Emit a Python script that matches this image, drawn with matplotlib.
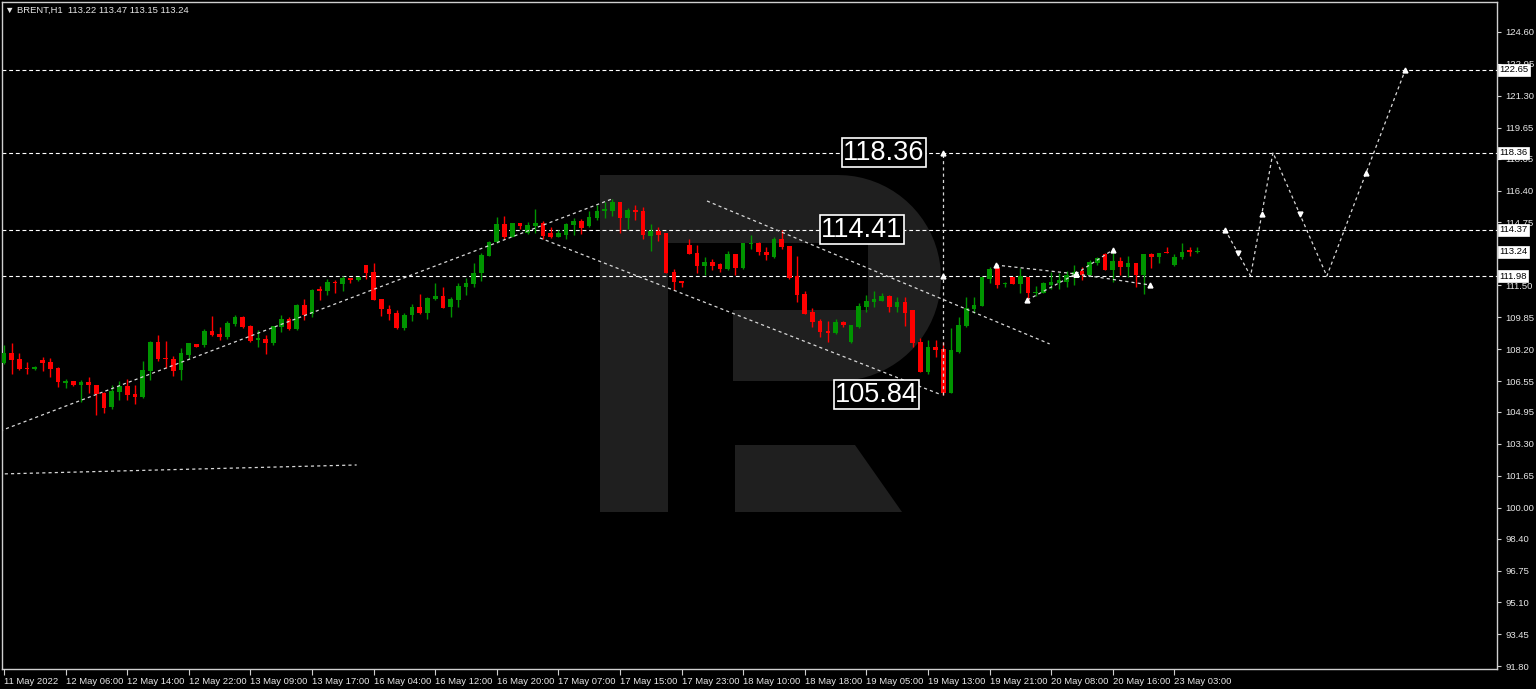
import matplotlib
matplotlib.use("Agg")
import matplotlib.pyplot as plt
import matplotlib.transforms as mtransforms
from matplotlib.patches import Polygon
import numpy as np

# ---- data --------------------------------------------------------------
header = "\u25BC BRENT,H1  113.22 113.47 113.15 113.24"

opens = [
    107.49, 107.98, 107.68, 107.24, 107.16, 107.63, 107.51, 107.23, 106.43, 106.55,
    106.34, 106.48, 106.34, 105.91, 105.22, 106.00, 106.29, 105.86, 105.70, 107.09,
    108.55, 107.75, 107.68, 107.11, 107.89, 108.45, 108.41, 109.13, 108.98, 108.84,
    109.48, 109.87, 109.39, 108.67, 108.72, 108.50, 109.32, 109.74, 109.24, 110.48,
    110.01, 111.29, 111.22, 111.68, 111.56, 111.89, 111.77, 112.55, 112.20, 110.77,
    110.27, 110.08, 109.30, 109.96, 110.36, 110.08, 110.79, 110.96, 110.39, 110.74,
    111.43, 111.56, 112.12, 113.03, 113.72, 114.67, 114.01, 114.70, 114.19, 114.56,
    114.73, 114.19, 114.01, 114.10, 114.62, 114.82, 114.56, 114.96, 115.36, 115.36,
    115.82, 114.96, 115.39, 115.36, 114.05, 114.32, 114.19, 112.20, 111.73, 113.58,
    113.18, 112.49, 112.72, 112.58, 112.32, 113.12, 112.38, 113.63, 113.70, 113.24,
    112.98, 113.88, 113.53, 111.98, 111.05, 110.13, 109.66, 109.15, 109.04, 109.61,
    108.58, 109.32, 110.36, 110.65, 110.70, 110.94, 110.36, 110.65, 110.22, 108.58,
    107.03, 108.32, 108.19, 105.94, 108.06, 109.39, 110.25, 110.43, 111.81, 112.38,
    111.55, 111.94, 111.56, 111.94, 111.08, 111.11, 111.51, 111.63, 111.68, 112.03,
    112.25, 112.03, 112.67, 113.12, 112.29, 112.77, 112.43, 112.63, 112.03, 113.12,
    112.98, 113.24, 112.55, 112.95, 113.32, 113.22]
highs = [
    108.41, 108.50, 107.98, 107.53, 107.32, 107.77, 107.72, 107.26, 106.65, 106.55,
    106.60, 106.74, 106.37, 105.99, 106.34, 106.55, 106.65, 106.34, 107.60, 108.63,
    108.92, 108.61, 107.84, 108.24, 108.50, 108.45, 109.22, 109.91, 109.32, 109.65,
    109.96, 109.91, 109.44, 109.18, 108.92, 109.39, 109.96, 109.84, 110.53, 110.77,
    111.30, 111.46, 111.81, 111.77, 111.98, 111.89, 111.94, 112.55, 112.67, 110.77,
    110.48, 110.22, 110.08, 110.51, 111.03, 110.87, 111.60, 111.39, 110.87, 111.60,
    111.86, 112.67, 113.15, 113.80, 115.02, 115.10, 114.70, 114.72, 114.79, 115.43,
    114.82, 114.50, 114.36, 114.70, 114.96, 114.91, 115.36, 115.65, 115.82, 115.94,
    115.82, 115.48, 115.65, 115.53, 114.67, 114.50, 114.22, 112.32, 111.73, 113.88,
    113.58, 112.98, 112.84, 112.67, 113.27, 113.12, 113.70, 114.10, 113.75, 113.49,
    114.01, 114.36, 113.53, 113.01, 111.22, 110.31, 109.74, 109.66, 109.74, 109.66,
    109.44, 110.60, 110.99, 111.22, 111.08, 110.99, 110.87, 110.91, 110.22, 108.75,
    108.67, 108.67, 108.58, 109.27, 109.87, 110.87, 110.91, 111.91, 112.43, 112.55,
    111.68, 111.94, 112.38, 111.94, 111.46, 111.68, 112.20, 112.12, 112.25, 112.55,
    112.43, 112.81, 112.98, 113.15, 113.24, 112.98, 113.01, 112.63, 113.12, 113.18,
    113.18, 113.49, 113.12, 113.67, 113.46, 113.47]
lows = [
    107.45, 106.91, 107.11, 106.91, 107.11, 107.06, 106.77, 106.22, 106.17, 106.30,
    105.47, 105.91, 104.79, 104.91, 105.13, 105.56, 105.56, 105.36, 105.65, 106.60,
    107.60, 107.25, 106.80, 106.60, 107.67, 108.29, 108.32, 108.89, 108.67, 108.72,
    109.39, 109.27, 108.58, 108.29, 107.94, 108.41, 109.10, 109.18, 109.18, 109.70,
    109.87, 110.74, 110.99, 111.11, 111.22, 111.60, 111.74, 111.81, 110.74, 109.92,
    109.70, 109.22, 109.18, 109.65, 110.00, 109.74, 110.74, 110.31, 109.87, 110.39,
    110.99, 111.43, 111.73, 113.02, 113.67, 113.89, 113.98, 114.39, 114.15, 114.22,
    113.88, 113.93, 113.98, 113.88, 114.10, 114.15, 114.53, 114.87, 114.96, 115.08,
    114.19, 114.39, 114.87, 113.88, 113.27, 113.80, 112.12, 111.25, 111.39, 113.12,
    112.12, 112.03, 112.29, 112.20, 112.29, 112.03, 112.32, 113.36, 113.06, 112.80,
    112.89, 113.37, 111.81, 110.65, 110.01, 109.35, 108.84, 108.58, 108.98, 109.32,
    108.53, 109.27, 110.13, 110.36, 110.70, 110.13, 110.13, 109.39, 108.29, 107.03,
    106.91, 107.77, 105.84, 105.91, 107.98, 109.32, 110.05, 110.43, 111.63, 111.37,
    111.43, 111.56, 111.11, 110.74, 110.94, 111.08, 111.29, 111.29, 111.39, 111.51,
    111.77, 111.98, 112.55, 112.29, 111.68, 112.03, 111.94, 111.39, 111.05, 112.38,
    112.67, 113.18, 112.49, 112.84, 113.01, 113.15]
closes = [
    107.98, 107.63, 107.17, 107.16, 107.29, 107.49, 107.15, 106.51, 106.55, 106.34,
    106.48, 106.34, 105.87, 105.16, 106.04, 106.29, 105.82, 105.70, 107.11, 108.55,
    107.67, 107.67, 107.06, 107.98, 108.50, 108.29, 109.15, 108.92, 108.81, 109.53,
    109.87, 109.32, 108.63, 108.76, 108.50, 109.39, 109.74, 109.24, 110.48, 109.96,
    111.25, 111.20, 111.68, 111.60, 111.86, 111.77, 111.94, 112.15, 110.74, 110.25,
    110.01, 109.30, 109.96, 110.39, 110.05, 110.82, 110.94, 110.34, 110.79, 111.46,
    111.60, 112.15, 113.06, 113.75, 114.67, 114.01, 114.70, 114.58, 114.61, 114.70,
    114.05, 114.01, 114.22, 114.67, 114.82, 114.48, 115.02, 115.36, 115.43, 115.82,
    114.96, 115.39, 115.30, 114.10, 114.32, 114.10, 112.12, 111.68, 111.63, 113.12,
    112.49, 112.72, 112.49, 112.32, 113.12, 112.38, 113.70, 113.70, 113.24, 113.06,
    113.88, 113.46, 111.86, 110.99, 110.01, 109.61, 109.09, 109.06, 109.61, 109.44,
    109.44, 110.43, 110.70, 110.79, 110.94, 110.36, 110.65, 110.08, 108.50, 107.03,
    108.32, 108.15, 105.91, 108.15, 109.44, 110.31, 110.48, 111.91, 112.32, 111.51,
    111.60, 111.56, 111.98, 111.08, 111.17, 111.63, 111.68, 111.77, 112.03, 112.20,
    112.03, 112.72, 112.89, 112.29, 112.77, 112.46, 112.63, 112.03, 113.12, 112.98,
    113.18, 113.18, 112.95, 113.24, 113.24, 113.24]

time_labels = ["11 May 2022", "12 May 06:00", "12 May 14:00", "12 May 22:00",
               "13 May 09:00", "13 May 17:00", "16 May 04:00", "16 May 12:00",
               "16 May 20:00", "17 May 07:00", "17 May 15:00", "17 May 23:00",
               "18 May 10:00", "18 May 18:00", "19 May 05:00", "19 May 13:00",
               "19 May 21:00", "20 May 08:00", "20 May 16:00", "23 May 03:00"]
label_step = 8

price_ticks = [124.60, 122.95, 121.30, 119.65, 118.05, 116.40, 114.75, 111.50,
               109.85, 108.20, 106.55, 104.95, 103.30, 101.65, 100.00, 98.40,
               96.75, 95.10, 93.45, 91.80]
price_tick_text = ["124.60", "122.95", "121.30", "119.65", "118.05", "116.40",
                   "114.75", "111.50", "109.85", "108.20", "106.55", "104.95",
                   "103.30", "101.65", "100.00", "98.40", "96.75", "95.10",
                   "93.45", "91.80"]
levels = [122.65, 118.36, 114.37, 111.98]
bid = 113.24

# analysis objects drawn on the chart: (bar, price) pairs
support_line = [(-0.5, 103.97), (79.0, 115.97)]
old_line = [(0.1, 101.75), (45.8, 102.21)]
channel_top = [(91.3, 115.86), (135.8, 108.47)]
channel_bottom = [(69.6, 113.95), (121.6, 105.86)]
target_line = [(122.0, 105.84), (122.0, 118.36)]
flag_top = [(128.8, 112.55), (139.2, 112.09)]
flag_bottom = [(132.9, 110.74), (139.2, 112.09)]
flag_up = [(139.2, 112.09), (144.0, 113.33)]
flag_down = [(139.2, 112.09), (148.8, 111.52)]
forecast = [(158.6, 114.37), (161.9, 111.98), (164.8, 118.36),
            (171.8, 111.98), (182.0, 122.65)]

box_text = ["118.36", "114.41", "105.84"]
box_bar = [114.3, 111.4, 113.3]
box_price = [118.36, 114.37, 105.84]

# ---- figure ------------------------------------------------------------
GREEN = "#009400"
RED = "#ff0000"
FG = "#e6e6e6"

fig = plt.figure(figsize=(15.36, 6.89), dpi=100, facecolor="black")
ax = fig.add_axes([2 / 1536, 20 / 689, 1495 / 1536, 667 / 689], facecolor="black")
ax.set_xlim(-0.26, 193.9)
ax.set_ylim(91.66, 126.15)

# watermark logo, in pixel coordinates of the picture
px = mtransforms.Affine2D().scale(1 / 1536, -1 / 689).translate(0, 1) + fig.transFigure
logo = "#1f1f1f"
t = np.linspace(-np.pi / 2, np.pi / 2, 40)
bowl = [(600, 175)] + [(838 + 103 * np.cos(a), 278 + 103 * np.sin(a)) for a in t] + [(600, 381)]
ax.add_patch(Polygon(bowl, closed=True, fc=logo, ec="none", transform=px, zorder=0.5))
ax.add_patch(Polygon([(600, 381), (668, 381), (668, 512), (600, 512)], fc=logo, ec="none",
                     transform=px, zorder=0.5))
ax.add_patch(Polygon([(668, 243), (868, 243), (868, 310), (733, 310), (733, 381), (668, 381)],
                     fc="black", ec="none", transform=px, zorder=0.6))
ax.add_patch(Polygon([(735, 445), (855, 445), (902, 512), (735, 512)], fc=logo, ec="none",
                     transform=px, zorder=0.5))

# candles
o, h, l, c = (np.array(v) for v in (opens, highs, lows, closes))
x = np.arange(len(c))
col = np.where(c >= o, GREEN, RED)
ax.vlines(x, l, h, colors=col, lw=1.0, zorder=3)
ax.bar(x, np.maximum(np.abs(c - o), 0.05), bottom=np.minimum(o, c), width=0.6,
       color=col, linewidth=0, zorder=3)

# horizontal levels
dash = (0, (3.5, 2.5))
for lv in levels:
    ax.axhline(lv, color="white", lw=0.8, ls=dash, zorder=2)

# trend lines and wave lines
for seg in (support_line, old_line, channel_top, channel_bottom, target_line,
            flag_top, flag_bottom, flag_up, flag_down, forecast):
    xs, ys = zip(*seg)
    ax.plot(xs, ys, color="#d8d8d8", lw=0.9, ls=(0, (2.5, 2.5)), zorder=4)

# small arrow markers along the wave paths
for seg in (flag_top, flag_bottom, flag_up, flag_down, forecast):
    xs, ys = zip(*seg)
    ax.plot(xs[0], ys[0], marker="^", ms=3.5, color="white", zorder=5, ls="none")
    ax.plot(xs[-1], ys[-1], marker="^", ms=3.5, color="white", zorder=5, ls="none")
ax.plot([target_line[0][0]] * 2, [levels[1], levels[3]], marker="^", ms=3.5,
        color="white", ls="none", zorder=5)
for (x0, y0), (x1, y1) in zip(forecast[:-1], forecast[1:]):
    ax.plot((x0 + x1) / 2, (y0 + y1) / 2, marker="^" if y1 > y0 else "v", ms=3.5,
            color="white", ls="none", zorder=5)

# big price boxes
for txt, bx, by in zip(box_text, box_bar, box_price):
    ax.text(bx, by, txt, ha="center", va="center", color="white", fontsize=19.5,
            family=["Liberation Sans Narrow", "Liberation Sans", "DejaVu Sans"],
            bbox=dict(boxstyle="square,pad=0.05", fc="black", ec="white", lw=1.2),
            zorder=6)

# axes styling
for s in ax.spines.values():
    s.set_color("#cfcfcf")
    s.set_linewidth(1)

ax.yaxis.tick_right()
ax.set_yticks(price_ticks)
ax.set_yticklabels(price_tick_text)
ax.tick_params(axis="y", colors="#cfcfcf", labelcolor=FG, labelsize=6.8, length=3,
               width=0.8, pad=3)
ticks = np.arange(len(time_labels)) * label_step
ax.set_xticks(ticks)
ax.set_xticklabels(time_labels)
ax.tick_params(axis="x", colors="#cfcfcf", labelcolor=FG, labelsize=6.8, length=4,
               width=0.8, pad=1.5)
for lab in ax.get_xticklabels() + ax.get_yticklabels():
    lab.set_family(["Liberation Sans", "DejaVu Sans"])
for lab in ax.get_xticklabels():
    lab.set_ha("left")

# highlighted price labels on the scale
ytf = mtransforms.blended_transform_factory(ax.transAxes, ax.transData)
for lv in levels + [bid]:
    ax.text(1.0 + 2 / 1495, lv, f"{lv:.2f}", transform=ytf, ha="left", va="center",
            fontsize=6.8, color="black", family=["Liberation Sans", "DejaVu Sans"],
            bbox=dict(boxstyle="square,pad=0.15", fc="white", ec="white", lw=0.5),
            clip_on=False, zorder=7)

fig.text(5 / 1536, 1 - 10 / 689, header, color=FG, fontsize=6.8, va="center",
         family=["Liberation Sans", "DejaVu Sans"])

fig.savefig("out.png", dpi=100, facecolor="black")
